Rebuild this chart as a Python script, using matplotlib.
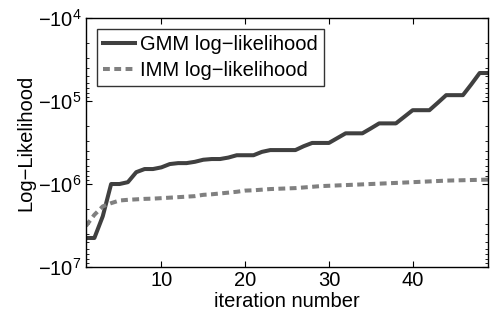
import numpy as np
import matplotlib.pyplot as plt
from matplotlib.ticker import FuncFormatter, LogLocator

plt.rcParams['font.family'] = ['Liberation Sans', 'DejaVu Sans']

# iteraciones
iteraciones = list(range(1, 50))

# log-likelihood del GMM (valores negativos)
gmm_ll = [-4.47e6, -4.47e6, -2.45e6, -1.0e6, -1.0e6, -9.5e5, -7.2e5, -6.6e5, -6.6e5, -6.3e5,
          -5.75e5, -5.6e5, -5.6e5, -5.4e5, -5.1e5, -5.0e5, -5.0e5, -4.8e5, -4.5e5, -4.5e5,
          -4.5e5, -4.1e5, -3.9e5, -3.9e5, -3.9e5, -3.9e5, -3.5e5, -3.2e5, -3.2e5, -3.2e5,
          -2.8e5, -2.45e5, -2.45e5, -2.45e5, -2.14e5, -1.86e5, -1.86e5, -1.86e5, -1.55e5, -1.29e5,
          -1.29e5, -1.29e5, -1.05e5, -8.5e4, -8.5e4, -8.5e4, -6.3e4, -4.6e4, -4.6e4]

# log-likelihood del IMM
imm_ll = [-3.2e6, -2.35e6, -1.86e6, -1.7e6, -1.58e6, -1.55e6, -1.53e6, -1.51e6, -1.5e6, -1.48e6,
          -1.46e6, -1.44e6, -1.42e6, -1.4e6, -1.35e6, -1.33e6, -1.3e6, -1.27e6, -1.24e6, -1.2e6,
          -1.19e6, -1.17e6, -1.15e6, -1.14e6, -1.13e6, -1.12e6, -1.1e6, -1.08e6, -1.06e6, -1.05e6,
          -1.04e6, -1.03e6, -1.02e6, -1.01e6, -1.0e6, -9.9e5, -9.8e5, -9.7e5, -9.6e5, -9.5e5,
          -9.4e5, -9.3e5, -9.2e5, -9.1e5, -9.05e5, -9.0e5, -8.95e5, -8.9e5, -8.85e5]

fs = 14.5

fig = plt.figure(figsize=(4.9, 3.16), dpi=100)
ax = fig.add_axes([0.1755, 0.155, 0.8205, 0.788])

# se grafica la magnitud en escala log invertida
ax.plot(iteraciones, -np.array(gmm_ll), color='#404040', lw=2.9, label='GMM log\u2212likelihood')
ax.plot(iteraciones, -np.array(imm_ll), color='#808080', lw=2.9, ls=(0, (1.7, 1.1)),
        label='IMM log\u2212likelihood')

ax.set_yscale('log')
ax.set_ylim(1e7, 1e4)
ax.set_xlim(1, 49)
ax.set_xticks([10, 20, 30, 40])
ax.yaxis.set_major_locator(LogLocator(base=10, numticks=10))
ax.yaxis.set_minor_locator(LogLocator(base=10, subs=np.arange(2, 10), numticks=20))
ax.yaxis.set_major_formatter(FuncFormatter(lambda v, p: r'$\mathregular{-10^{%d}}$' % round(np.log10(v))))
ax.tick_params(which='both', direction='in', top=True, right=True, labelsize=fs)
ax.tick_params(which='major', length=4, pad=3)
ax.tick_params(which='minor', length=2)
for s in ax.spines.values():
    s.set_linewidth(1.0)

ax.set_xlabel('iteration number', fontsize=fs, labelpad=1)
ax.set_ylabel('Log\u2212Likelihood', fontsize=fs, labelpad=2)

leg = ax.legend(loc='upper left', fontsize=fs, frameon=True, fancybox=False,
                handlelength=1.6, borderaxespad=0.55, borderpad=0.3, labelspacing=0.35,
                handletextpad=0.25)
leg.get_frame().set_edgecolor('black')
leg.get_frame().set_linewidth(1.0)

plt.savefig('out.png')
